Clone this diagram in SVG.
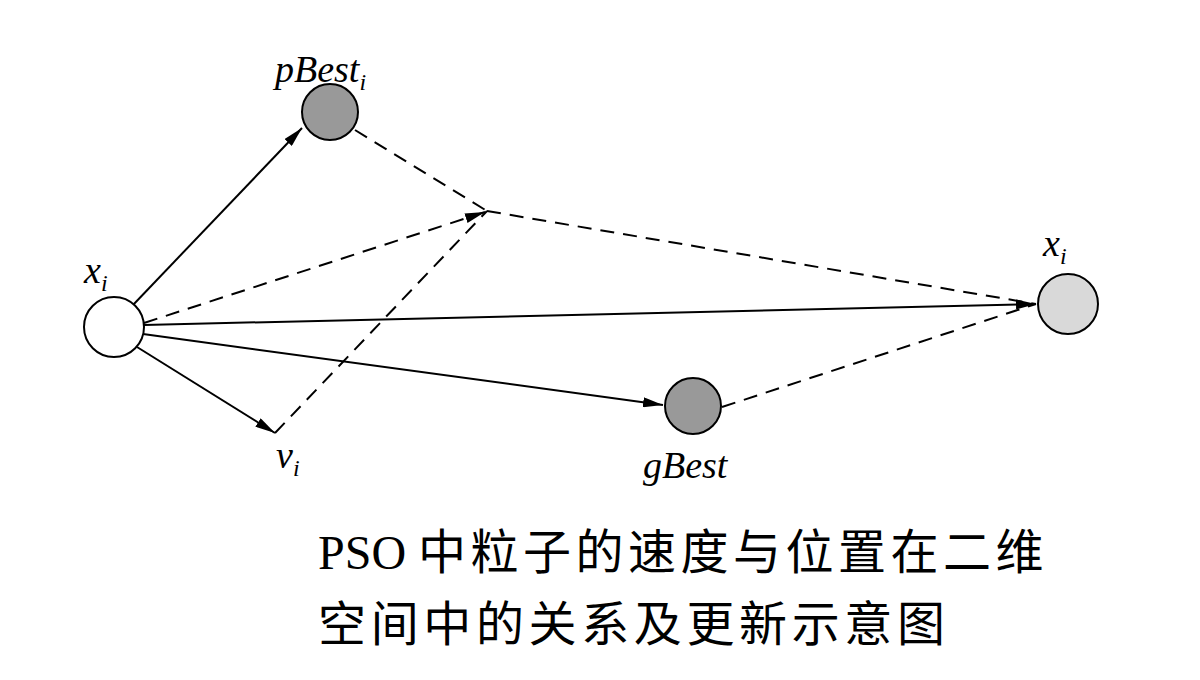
<svg xmlns="http://www.w3.org/2000/svg" width="1200" height="680" viewBox="0 0 1200 680">
<style>
.s{stroke:#000;stroke-width:2;fill:none}
.d{stroke:#000;stroke-width:2;fill:none;stroke-dasharray:14 9}
.n{stroke:#000;stroke-width:2}
.l{font-family:"Liberation Serif",serif;font-style:italic;font-size:38px}
.sub{font-size:24px}
.c{font-family:"Liberation Serif","Noto Sans CJK SC",serif;font-size:48px}
</style>
<defs><marker id="a" viewBox="0 0 20 10" refX="20" refY="5" markerWidth="20" markerHeight="10" markerUnits="userSpaceOnUse" orient="auto"><path d="M0,0 L20,5 L0,10 Z" fill="#000"/></marker></defs>
<rect width="1200" height="680" fill="#fff"/>
<g id="connectors">
<line class="s" x1="133" y1="305" x2="302" y2="128" marker-end="url(#a)"/>
<line class="s" x1="144" y1="325" x2="1036" y2="304" marker-end="url(#a)"/>
<line class="s" x1="143" y1="334" x2="663" y2="405" marker-end="url(#a)"/>
<line class="s" x1="137" y1="347" x2="275" y2="433" marker-end="url(#a)"/>
<line class="d" x1="144" y1="323" x2="485" y2="212" marker-end="url(#a)"/>
<line class="d" x1="355" y1="130" x2="487" y2="211"/>
<line class="d" x1="487" y1="211" x2="1036" y2="304"/>
<line class="d" x1="275" y1="433" x2="487" y2="211"/>
<line class="d" x1="722" y1="407" x2="1036" y2="304"/>
</g>
<g id="xi"><circle class="n" cx="114" cy="327" r="30" fill="#fff"/><text class="l" x="84" y="283">x<tspan class="sub" dy="8">i</tspan></text></g>
<g id="pbest"><circle class="n" cx="330" cy="112" r="28" fill="#999"/><text class="l" x="275" y="82">pBest<tspan class="sub" dy="8">i</tspan></text></g>
<g id="gbest"><circle class="n" cx="693" cy="406" r="28" fill="#999"/><text class="l" x="643" y="478">gBest</text></g>
<g id="xnew"><circle class="n" cx="1068" cy="304" r="30" fill="#d9d9d9"/><text class="l" x="1043" y="256">x<tspan class="sub" dy="8">i</tspan></text></g>
<g id="vi"><text class="l" x="276" y="468">v<tspan class="sub" dy="8">i</tspan></text></g>
<text class="c" x="318" y="569">PSO <tspan letter-spacing="4.5">中粒子的速度与位置在二维</tspan></text>
<text class="c" x="318" y="641" textLength="627" lengthAdjust="spacing">空间中的关系及更新示意图</text>
</svg>
